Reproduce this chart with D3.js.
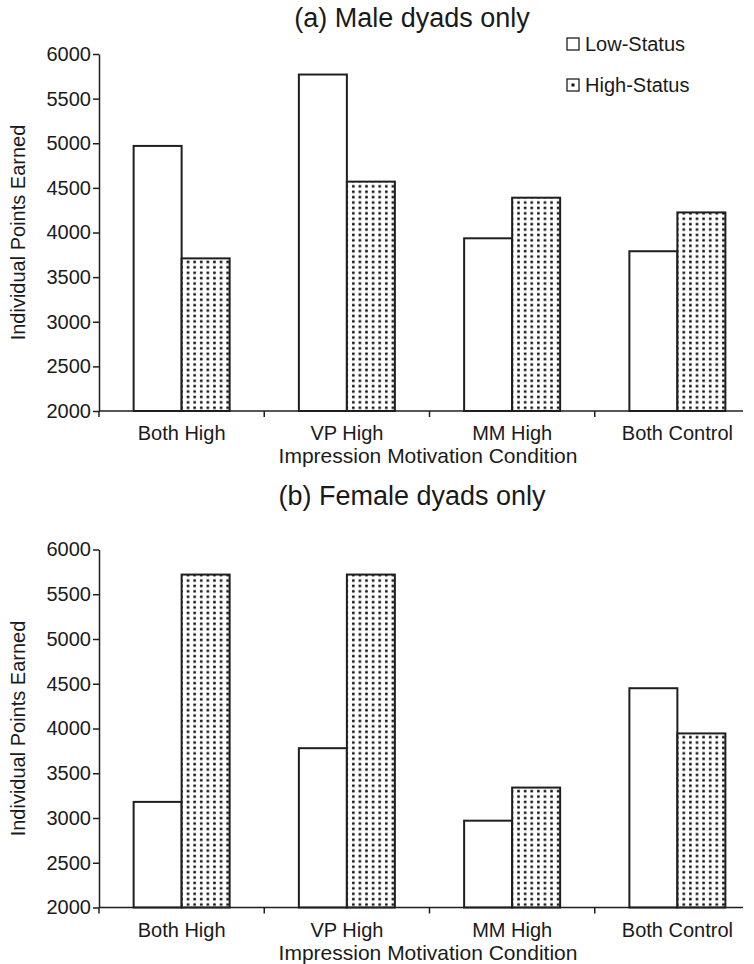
<!DOCTYPE html>
<html>
<head>
<meta charset="utf-8">
<script src="https://cdn.jsdelivr.net/npm/d3@7/dist/d3.min.js"></script>
<style>
  html, body { margin: 0; padding: 0; background: #fff; }
  svg { display: block; }
  text { font-family: "Liberation Sans", Arial, Helvetica, sans-serif; fill: #1a1a1a; }
</style>
</head>
<body>
<svg id="chart" width="754" height="964"></svg>
<script>
// ---- data ----
const categories = ["Both High", "VP High", "MM High", "Both Control"];
const seriesNames = ["Low-Status", "High-Status"];
const maleLow = [4970, 5770, 3935, 3790];
const maleHigh = [3710, 4570, 4390, 4225];
const femaleLow = [3180, 3780, 2970, 4450];
const femaleHigh = [5720, 5720, 3340, 3945];
const yTicks = [2000, 2500, 3000, 3500, 4000, 4500, 5000, 5500, 6000];
const panelTitles = ["(a) Male dyads only", "(b) Female dyads only"];
const xTitle = "Impression Motivation Condition";
const yTitle = "Individual Points Earned";

const svg = d3.select("#chart");
const ink = "#1f1f1f";
const FONT = "Liberation Sans, Arial, sans-serif";

// dotted pattern
const defs = svg.append("defs");
const pat = defs.append("pattern")
  .attr("id", "dots").attr("patternUnits", "userSpaceOnUse")
  .attr("width", 6.6).attr("height", 5.4);
pat.append("rect").attr("width", 6.6).attr("height", 5.4).attr("fill", "#fff");
pat.append("rect").attr("x", 2).attr("y", 1.5).attr("width", 2.5).attr("height", 2.5).attr("fill", "#111");

const x = d3.scaleBand().domain(categories).range([99, 760]).paddingInner(0).paddingOuter(0);
const barW = 48;
const xSub = d3.scaleBand().domain(seriesNames)
  .range([x.bandwidth() / 2 - barW, x.bandwidth() / 2 + barW]).padding(0);

const panels = [
  { title: panelTitles[0], low: maleLow, high: maleHigh, top: 54, bottom: 411, titleY: 27 },
  { title: panelTitles[1], low: femaleLow, high: femaleHigh, top: 549.5, bottom: 907.5, titleY: 505 }
];

panels.forEach((p, pi) => {
  const y = d3.scaleLinear().domain([2000, 6000]).range([p.bottom, p.top]);
  const g = svg.append("g");

  // title
  g.append("text").attr("x", 412).attr("y", p.titleY)
    .attr("text-anchor", "middle").attr("font-size", 27).text(p.title);

  // bars
  const rows = categories.map((c, i) => ({ c, vals: [p.low[i], p.high[i]] }));
  const grp = g.selectAll("g.grp").data(rows).join("g")
    .attr("transform", d => `translate(${x(d.c)},0)`);
  grp.selectAll("rect").data(d => d.vals.map((v, k) => ({ s: seriesNames[k], v })))
    .join("rect")
    .attr("x", d => xSub(d.s))
    .attr("width", xSub.bandwidth())
    .attr("y", d => y(d.v))
    .attr("height", d => y(2000) - y(d.v))
    .attr("fill", d => d.s === seriesNames[0] ? "#fff" : "url(#dots)")
    .attr("stroke", ink).attr("stroke-width", 2);

  // y axis
  const yAxis = d3.axisLeft(y).tickValues(yTicks).tickSize(6).tickSizeOuter(0).tickPadding(2).tickFormat(d3.format("d"));
  const ya = g.append("g").attr("transform", "translate(99,0)").call(yAxis);
  ya.select(".domain").attr("stroke", ink).attr("stroke-width", 1.5);
  ya.selectAll(".tick line").attr("stroke", ink).attr("stroke-width", 1.5);
  ya.selectAll(".tick text").attr("font-size", 20).style("font-family", FONT).attr("fill", "#1a1a1a");

  // x axis line and boundary ticks
  g.append("line").attr("x1", 99).attr("x2", 743).attr("y1", p.bottom).attr("y2", p.bottom)
    .attr("stroke", ink).attr("stroke-width", 1.5);
  g.selectAll("line.bt").data(categories).join("line").attr("class", "bt")
    .attr("x1", d => x(d)).attr("x2", d => x(d))
    .attr("y1", p.bottom).attr("y2", p.bottom + 6)
    .attr("stroke", ink).attr("stroke-width", 1.5);

  // x tick labels
  const xAxis = d3.axisBottom(x).tickSize(0).tickPadding(0);
  const xa = g.append("g").attr("transform", `translate(0,${p.bottom})`).call(xAxis);
  xa.select(".domain").remove();
  xa.selectAll(".tick text").attr("font-size", 20).attr("dy", 0).attr("y", 29)
    .style("font-family", FONT).attr("fill", "#1a1a1a");

  // x title
  g.append("text").attr("x", 428).attr("y", p.bottom + 52)
    .attr("text-anchor", "middle").attr("font-size", 21).text(xTitle);

  // y title
  g.append("text")
    .attr("transform", `translate(25,${(p.top + p.bottom) / 2}) rotate(-90)`)
    .attr("text-anchor", "middle").attr("font-size", 20).text(yTitle);

  // legend (top panel only)
  if (pi === 0) {
    const lg = g.append("g").attr("transform", "translate(567,38)");
    const items = lg.selectAll("g").data(seriesNames).join("g")
      .attr("transform", (d, i) => `translate(0,${i * 41})`);
    items.append("rect").attr("x", 0).attr("y", 0).attr("width", 12).attr("height", 12)
      .attr("fill", "#fff").attr("stroke", ink).attr("stroke-width", 1.3);
    items.filter((d, i) => i === 1).append("rect")
      .attr("x", 4.5).attr("y", 4.5).attr("width", 3).attr("height", 3).attr("fill", "#111");
    items.append("text").attr("x", 18).attr("y", 13).attr("font-size", 20).text(d => d);
  }
});
</script>
</body>
</html>
